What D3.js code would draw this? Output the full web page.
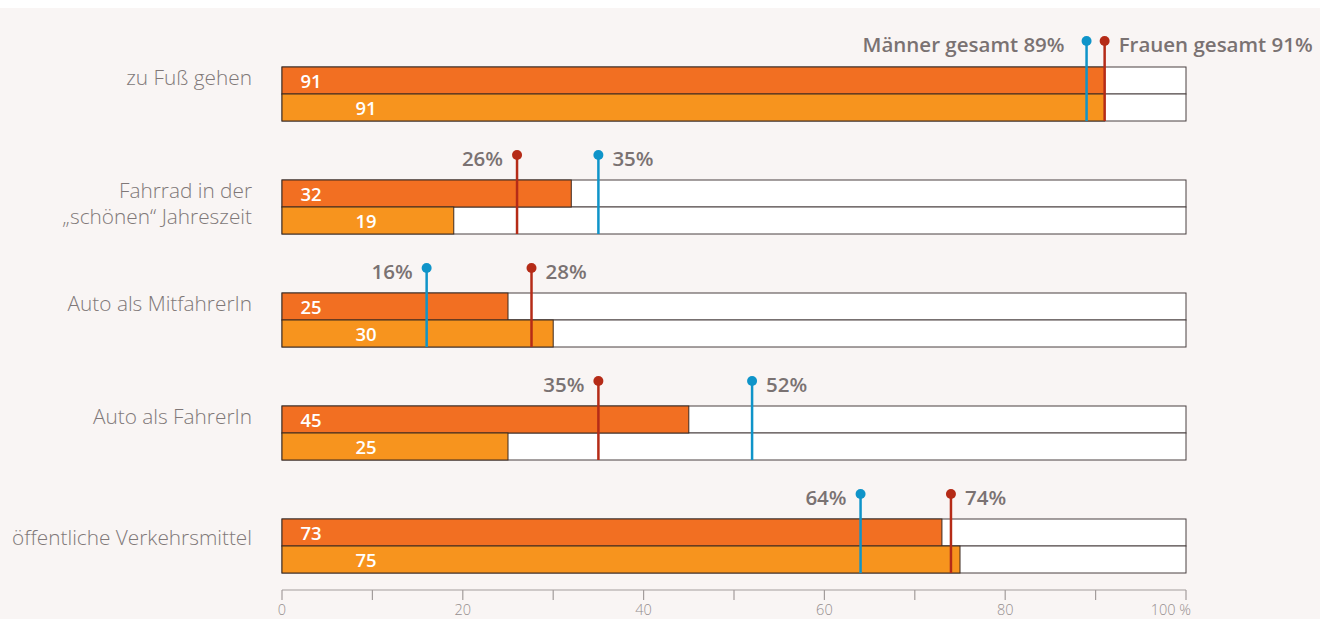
<!DOCTYPE html>
<html><head><meta charset="utf-8">
<script src="https://cdn.jsdelivr.net/npm/d3@7"></script>
<style>
html,body{margin:0;padding:0;background:#fff;}
svg{display:block;}
</style></head>
<body>
<svg id="chart" width="1320" height="619"></svg>
<script>
// ---- data ----
const categories = ["zu Fuß gehen", "Fahrrad in der\n„schönen“ Jahreszeit", "Auto als MitfahrerIn", "Auto als FahrerIn", "öffentliche Verkehrsmittel"];
const seriesTop = [91, 32, 25, 45, 73];
const seriesBottom = [91, 19, 30, 25, 75];
const menTotal = [89, 35, 16, 52, 64];      // blue markers
const womenTotal = [91, 26, 27.6, 35, 74];  // red markers
const markerPrefix = ["gesamt", "", "", "", ""];
const tickValues = [0, 20, 40, 60, 80, 100];
const tickLabels = ["0", "20", "40", "60", "80", "100 %"];
const minorTicks = [10, 30, 50, 70, 90];

// ---- layout ----
const W = 1320, H = 619;
const svg = d3.select("#chart");
svg.append("rect").attr("x", 0).attr("y", 8).attr("width", W).attr("height", H - 8).attr("fill", "#f9f5f4");

const x = d3.scaleLinear().domain([0, 100]).range([282, 1186]);
const groupY = d3.scaleBand().domain(d3.range(categories.length)).range([67, 67 + 113 * 5]).paddingInner(0).paddingOuter(0);
const barH = 27;
const labelDy = [18, 18, 18, 18, 26];
const cTop = "#f26f22", cBot = "#f7941e", cRed = "#b52b17", cBlue = "#0f94c9";
const textGray = "#7a7272";
const catGray = "#807878";
const font = "'Open Sans', sans-serif";

const g = svg.append("g");
categories.forEach((cat, i) => {
  const y0 = groupY(i);
  // white background rects
  [0, 1].forEach(k => {
    g.append("rect").attr("x", x(0)).attr("y", y0 + k * barH).attr("width", x(100) - x(0)).attr("height", barH)
      .attr("fill", "#fff").attr("stroke", "#4a4040").attr("stroke-width", 1);
  });
  g.append("rect").attr("x", x(0)).attr("y", y0).attr("width", x(seriesTop[i]) - x(0)).attr("height", barH)
    .attr("fill", cTop).attr("stroke", "#3d2a20").attr("stroke-width", 1);
  g.append("rect").attr("x", x(0)).attr("y", y0 + barH).attr("width", x(seriesBottom[i]) - x(0)).attr("height", barH)
    .attr("fill", cBot).attr("stroke", "#3d2a20").attr("stroke-width", 1);
  // value labels
  g.append("text").attr("x", 311).attr("y", y0 + 21).attr("text-anchor", "middle")
    .attr("fill", "#fff").attr("font-family", font).attr("font-weight", 600).attr("font-size", 18.5).text(seriesTop[i]);
  g.append("text").attr("x", 366).attr("y", y0 + barH + 21).attr("text-anchor", "middle")
    .attr("fill", "#fff").attr("font-family", font).attr("font-weight", 600).attr("font-size", 18.5).text(seriesBottom[i]);
  // category label
  const lines = cat.split("\n");
  const t = g.append("text").attr("x", 252).attr("y", y0 + labelDy[i]).attr("text-anchor", "end")
    .attr("fill", catGray).attr("font-family", font).attr("font-weight", 300).attr("font-size", 20.8);
  lines.forEach((l, j) => t.append("tspan").attr("x", 252).attr("dy", j === 0 ? 0 : 26).text(l));

  // markers
  const dotY = y0 - (i === 0 ? 26 : 25);
  const m = [{v: menTotal[i], c: cBlue, who: "Männer"}, {v: womenTotal[i], c: cRed, who: "Frauen"}];
  m.sort((a, b) => a.v - b.v);
  m.forEach((d, k) => {
    g.append("line").attr("x1", x(d.v)).attr("x2", x(d.v)).attr("y1", dotY).attr("y2", y0 + 2 * barH)
      .attr("stroke", d.c).attr("stroke-width", 2.5);
    g.append("circle").attr("cx", x(d.v)).attr("cy", dotY).attr("r", 5).attr("fill", d.c);
    const label = (markerPrefix[i] ? d.who + " " + markerPrefix[i] + " " : "") + Math.round(d.v) + "%";
    const gapL = markerPrefix[i] ? 22 : 14;
    g.append("text").attr("x", k === 0 ? x(d.v) - gapL : x(d.v) + 14).attr("y", dotY + 11)
      .attr("text-anchor", k === 0 ? "end" : "start")
      .attr("fill", textGray).attr("font-family", font).attr("font-weight", 600).attr("font-size", 20.5)
      .text(label);
  });
});

// axis
const axisY = 590;
const ag = svg.append("g").attr("transform", `translate(0,${axisY})`);
ag.append("line").attr("x1", x(0)).attr("x2", x(100)).attr("y1", 0).attr("y2", 0).attr("stroke", "#a39d9c").attr("stroke-width", 1.2);
ag.selectAll("line.tk").data(tickValues.concat(minorTicks)).join("line").attr("class", "tk")
  .attr("x1", d => x(d)).attr("x2", d => x(d)).attr("y1", 0).attr("y2", 10).attr("stroke", "#a39d9c").attr("stroke-width", 1.2);
ag.selectAll("text.tl").data(tickValues).join("text").attr("class", "tl")
  .attr("x", d => d === 100 ? x(d) + 5 : x(d)).attr("y", 25)
  .attr("text-anchor", d => d === 100 ? "end" : "middle")
  .attr("fill", "#958e8e").attr("font-family", font).attr("font-weight", 300).attr("font-size", 14.5)
  .text((d, i) => tickLabels[i]);
</script>
</body></html>
